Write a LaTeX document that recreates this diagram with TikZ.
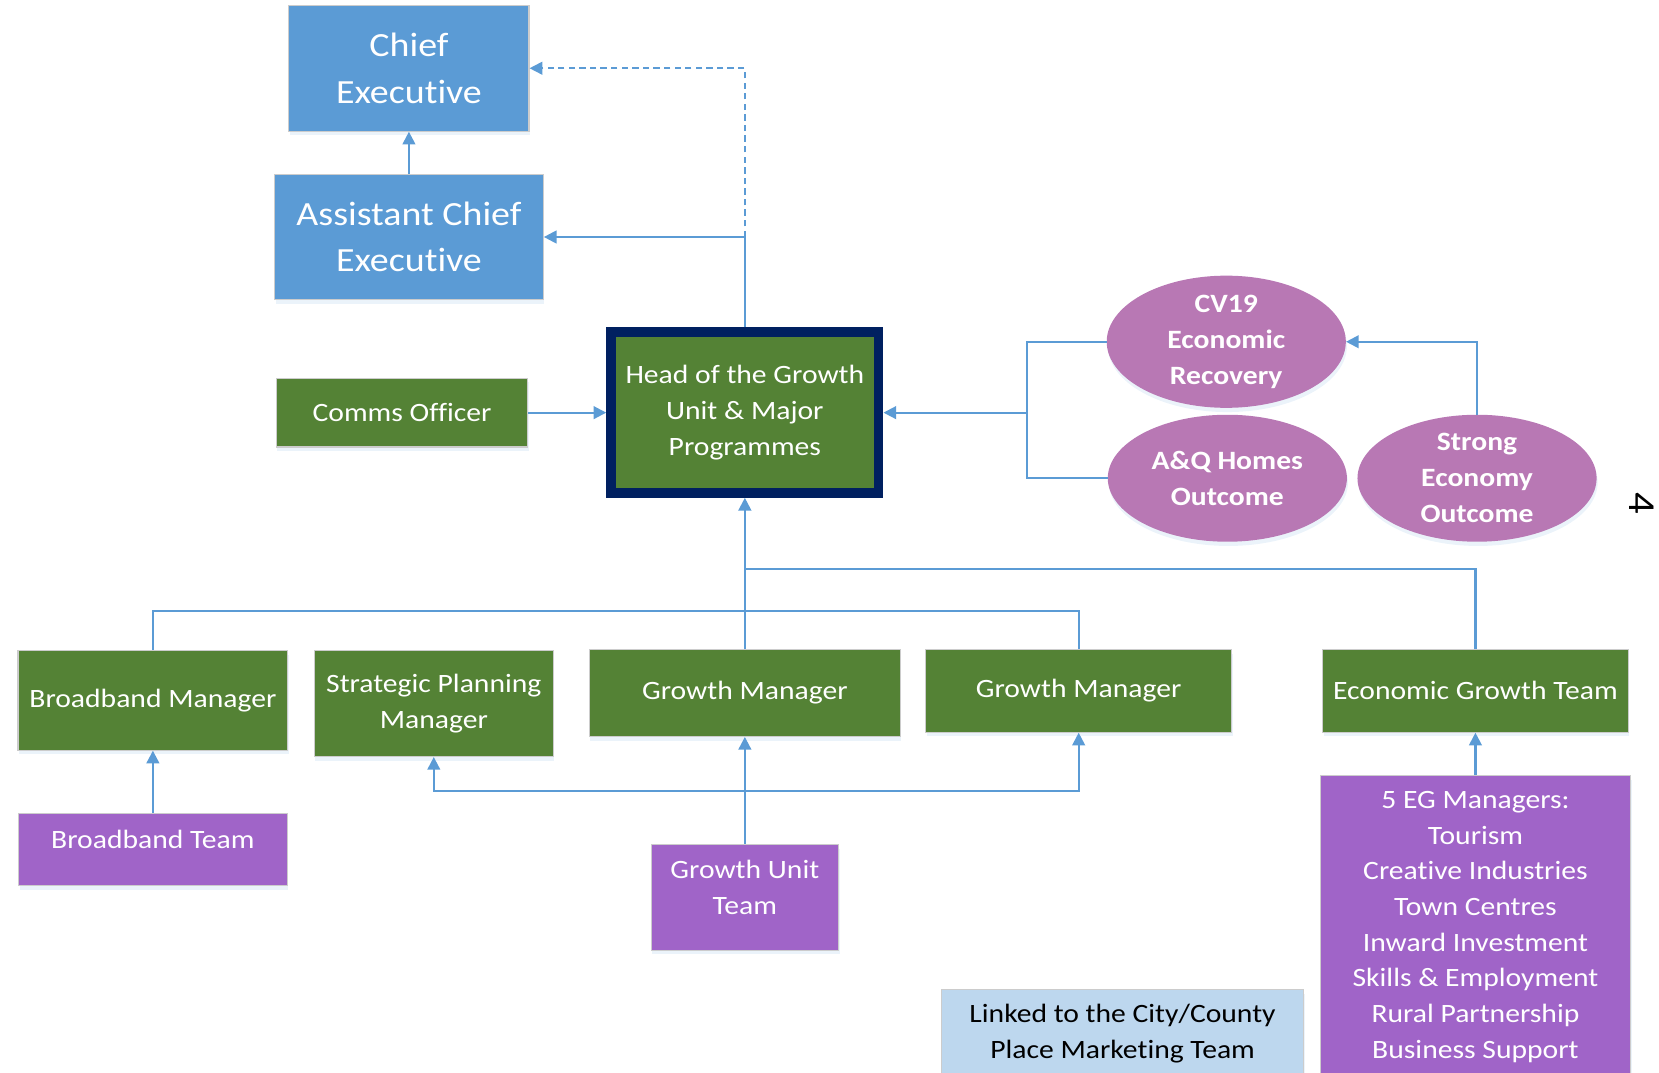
\documentclass[tikz,border=0pt]{standalone}
\usepackage{fontspec}
\setmainfont[FakeStretch=1.12,Ligatures=NoCommon]{Carlito}
\usetikzlibrary{shapes.geometric,arrows.meta,shadows,calc}
\definecolor{cblue}{HTML}{5B9BD5}
\definecolor{cgreen}{HTML}{548235}
\definecolor{cnavy}{HTML}{002060}
\definecolor{cpurple}{HTML}{A064C8}
\definecolor{corchid}{HTML}{B878B4}
\definecolor{clight}{HTML}{BDD7EE}
\begin{document}
\begin{tikzpicture}[x=1pt,y=-1pt,
  shade/.style={drop shadow={opacity=0.12,shadow xshift=1pt,shadow yshift=-4pt,fill=cblue}},
  basebox/.style={rectangle,inner sep=0pt,draw=black!20,line width=1pt,text=white,align=center,
     font=\fontsize{25}{34}\selectfont,shade},
  topbox/.style={basebox,fill=cblue,font=\fontsize{32}{44}\selectfont},
  greenbox/.style={basebox,fill=cgreen},
  purplebox/.style={basebox,fill=cpurple},
  oval/.style={ellipse,inner sep=0pt,fill=corchid,text=white,align=center,
     minimum width=226pt,minimum height=120pt,font=\bfseries\fontsize{25}{34}\selectfont,shade},
  conn/.style={draw=cblue,line width=2pt},
  arr/.style={conn,-{Triangle[length=12pt,width=12pt]}}]
\useasboundingbox (0,0) rectangle (1568,1014);
\clip (0,0) rectangle (1568,1014);

% top
\node[topbox,minimum width=227pt,minimum height=119pt] (ce) at (386.5,64.5) {Chief\\Executive};
\node[topbox,minimum width=254pt,minimum height=118pt] (ace) at (386.5,224) {Assistant Chief\\Executive};
\node[greenbox,minimum width=238pt,minimum height=65pt] (comms) at (380,390) {Comms Officer};
\node[greenbox,draw=cnavy,line width=9pt,minimum width=253pt,minimum height=152pt] (head) at (704,390)
  {Head of the Growth\\Unit \& Major\\Programmes};

% ellipses
\node[oval] (cv) at (1159,323) {CV19\\Economic\\Recovery};
\node[oval] (aq) at (1160,452) {A\&Q Homes\\Outcome};
\node[oval] (se) at (1396,452) {Strong\\Economy\\Outcome};

% managers
\node[greenbox,minimum width=255pt,minimum height=94pt] (bm) at (144.5,662) {Broadband Manager};
\node[greenbox,minimum width=226pt,minimum height=100pt] (spm) at (410,665) {Strategic Planning\\Manager};
\node[greenbox,minimum width=294pt,minimum height=82pt] (gm1) at (704,655) {Growth Manager};
\node[greenbox,minimum width=289pt,minimum height=78pt] (gm2) at (1019.5,653) {Growth Manager};
\node[greenbox,minimum width=289pt,minimum height=78pt] (egt) at (1394.5,653) {Economic Growth Team};

% teams
\node[purplebox,minimum width=254pt,minimum height=68pt,text depth=20pt] (bt) at (144.5,803) {Broadband Team};
\node[purplebox,minimum width=177pt,minimum height=100pt] (gut) at (704,848)
  {Growth Unit\\Team\\[-16pt]\mbox{}};
\node[purplebox,minimum width=293pt,minimum height=286pt,font=\fontsize{25}{33.7}\selectfont] (eg) at (1394.5,876)
  {5 EG Managers:\\Tourism\\Creative Industries\\Town Centres\\Inward Investment\\Skills \& Employment\\Rural Partnership\\Business Support};
\node[basebox,fill=clight,text=black,minimum width=342pt,minimum height=83pt] (linked) at (1061,977)
  {Linked to the City/County\\Place Marketing Team};

\node[rotate=-90,font=\fontsize{36}{40}\selectfont,inner sep=0pt] (pg) at (1552,476) {4};

% connectors top
\draw[arr] (ace.north) -- (ce.south);
\draw[arr] (head.north) |- (ace.east);
\draw[arr,dash pattern=on 6pt off 4pt,line width=1.6pt] (head.north |- ace.east) |- (ce.east);
\draw[arr] (comms.east) -- (comms.east -| head.west);

% ellipses
\coordinate (jn) at (971,390);
\draw[conn] (cv.west) -| (jn) |- (aq.west);
\draw[arr] (jn) -- (jn -| head.east);
\draw[arr] (se.north) |- (cv.east);

% tree below head
\draw[arr] (gm1.north) -- (head.south);
\draw[conn] (bm.north) -- ++(0,-37) -| (gm2.north);
\draw[conn] (egt.north) -- ++(0,-76) -| (gm1.north);

% teams
\draw[arr] (bt.north) -- (bt.north |- bm.south);
\draw[arr] (gut.north) -- (gut.north |- gm1.south);
\coordinate (gb) at (704,748);
\draw[arr] (gb) -| (spm.south);
\draw[arr] (gb) -| (gm2.south);
\draw[arr] (eg.north) -- (egt.south);
\end{tikzpicture}
\end{document}
